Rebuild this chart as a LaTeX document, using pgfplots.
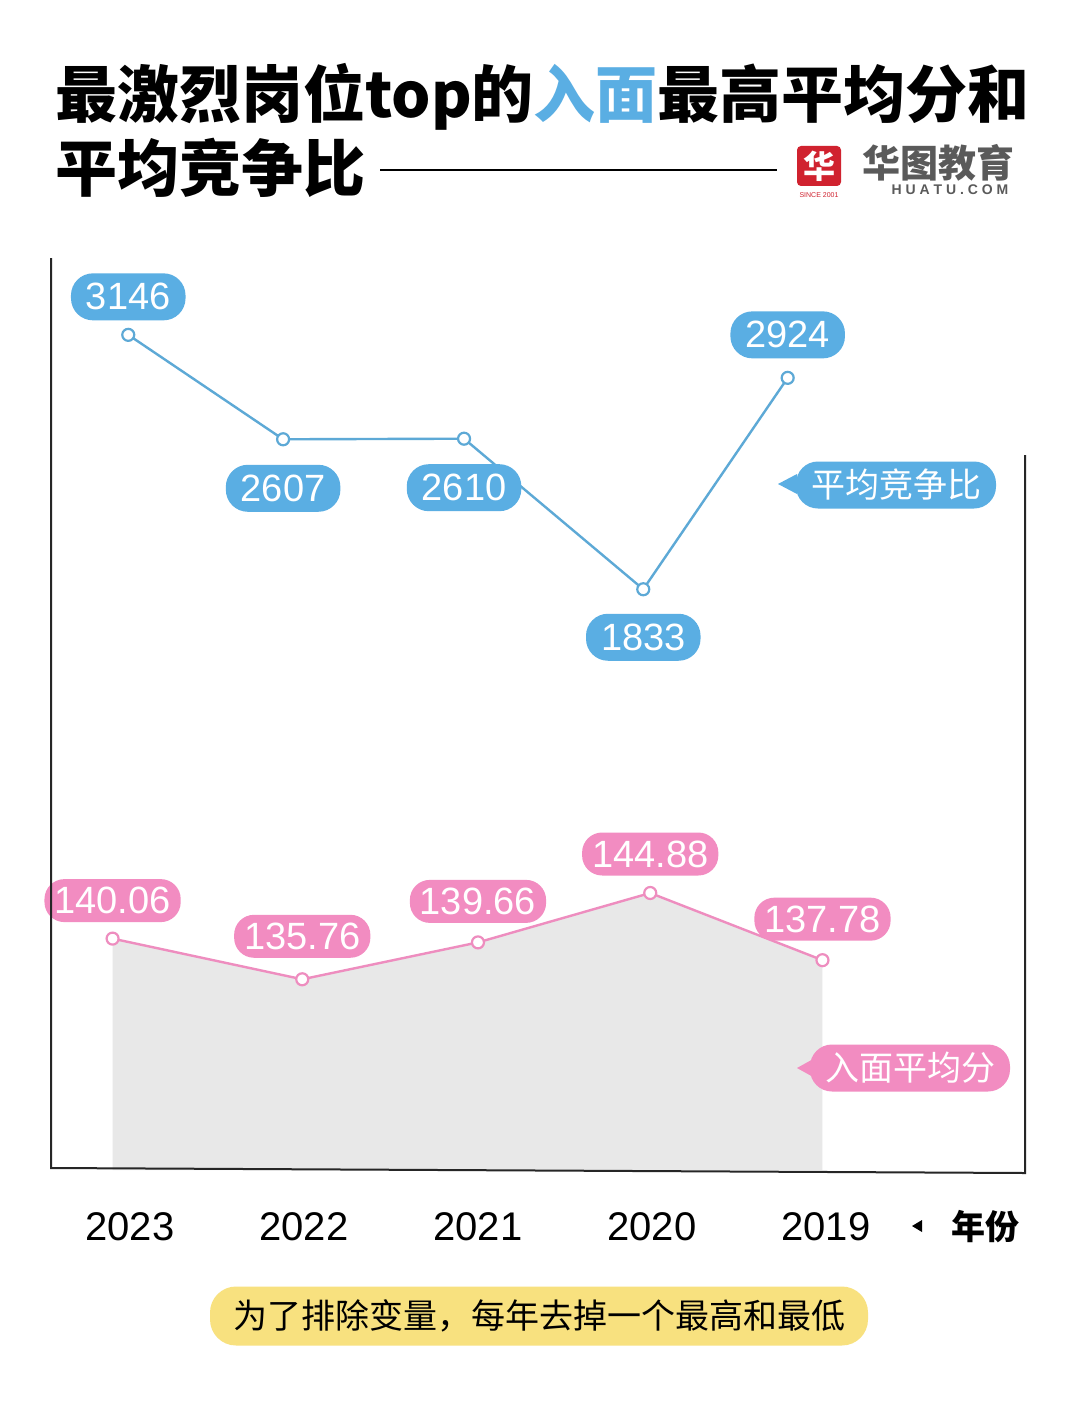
\documentclass[border=0pt]{standalone}
\usepackage{pgfplots}
\pgfplotsset{compat=1.18}
\usepackage{fontspec}
\setmainfont{Liberation Sans}
\newfontfamily\cjk{Noto Sans CJK SC}
\definecolor{bl}{HTML}{5AAEE3}
\definecolor{blline}{HTML}{5DA9D6}
\definecolor{pk}{HTML}{F28CC1}
\definecolor{pkline}{HTML}{EE8DBF}
\definecolor{areagray}{HTML}{E8E8E8}
\definecolor{note}{HTML}{F8E17F}
\definecolor{logored}{HTML}{D0222F}
\definecolor{logogray}{HTML}{5A5A5A}
\tikzset{
  bubble/.style={rounded corners=11pt, text=white, minimum height=23.5pt,
    inner xsep=7.5pt, inner ysep=0pt, font=\fontsize{19pt}{19pt}\selectfont},
  pbubble/.style={bubble, fill=pk, minimum height=21.5pt, inner xsep=5pt, rounded corners=10pt},
}
\begin{document}
\begin{tikzpicture}
\path[use as bounding box, fill=white] (0,0) rectangle (540pt,-706pt);

% pink series: average interview score (with grey area)
\begin{axis}[at={(25.5pt,-585pt)}, anchor=south west,
  width=487pt, height=456pt, scale only axis,
  xmin=-0.454, xmax=5.144, ymin=115.6, ymax=212,
  axis line style={draw=none}, major tick length=0pt,
  xtick={0,1,2,3,4}, xticklabels={2023,2022,2021,2020,2019},
  ytick=\empty,
  xticklabel style={font=\fontsize{20pt}{20pt}\selectfont, anchor=center, yshift=-28.5pt},
  clip=false]
\addplot[fill=areagray, draw=none] coordinates {
  (-0.1,115.6) (-0.1,140.06) (0.99,135.76) (2,139.66) (2.99,144.88) (3.98,137.78) (3.98,115.6)};
\addplot[pkline, line width=1.2pt, mark=*, mark size=3pt,
  mark options={fill=white, draw=pkline, line width=1.1pt}] coordinates {
  (-0.1,140.06) (0.99,135.76) (2,139.66) (2.99,144.88) (3.98,137.78)};
\node[pbubble, yshift=19pt] at (axis cs:-0.1,140.06) {140.06};
\node[pbubble, yshift=21.5pt] at (axis cs:0.99,135.76) {135.76};
\node[pbubble, yshift=20.5pt] at (axis cs:2,139.66) {139.66};
\node[pbubble, yshift=19.5pt] at (axis cs:2.99,144.88) {144.88};
\node[pbubble, yshift=20.5pt] at (axis cs:3.98,137.78) {137.78};
\end{axis}

% blue series: average competition ratio
\begin{axis}[at={(25.5pt,-585pt)}, anchor=south west,
  width=487pt, height=456pt, scale only axis,
  xmin=-0.454, xmax=5.144, ymin=-1164, ymax=3542.6,
  hide axis, clip=false]
\addplot[blline, line width=1.2pt, mark=*, mark size=3pt,
  mark options={fill=white, draw=blline, line width=1.1pt}] coordinates {
  (-0.01,3146) (0.88,2607) (1.92,2610) (2.95,1833) (3.78,2924)};
\node[bubble, fill=bl, yshift=19pt] at (axis cs:-0.01,3146) {3146};
\node[bubble, fill=bl, yshift=-24.5pt] at (axis cs:0.88,2607) {2607};
\node[bubble, fill=bl, yshift=-24.5pt] at (axis cs:1.92,2610) {2610};
\node[bubble, fill=bl, yshift=-24pt] at (axis cs:2.95,1833) {1833};
\node[bubble, fill=bl, yshift=21.5pt] at (axis cs:3.78,2924) {2924};
\end{axis}

\begin{scope}[x=0.5pt, y=-0.5pt]
% title
\node[anchor=west, inner sep=0] at (55,97)
  {\cjk\bfseries\fontsize{31pt}{31pt}\selectfont 最激烈岗位top的\textcolor{bl}{入面}最高平均分和};
\node[anchor=west, inner sep=0] at (55,168)
  {\cjk\bfseries\fontsize{31pt}{31pt}\selectfont 平均竞争比};
\draw[line width=0.8pt] (380,170) -- (777,170);
% logo
\fill[logored, rounded corners=2pt] (797,146) rectangle (841,186);
\node[text=white, inner sep=0] at (819,166) {\cjk\bfseries\fontsize{16pt}{16pt}\selectfont 华};
\node[text=logored, inner sep=0] at (819,195) {\fontsize{3.5pt}{4pt}\selectfont SINCE 2001};
\node[text=logogray, inner sep=0] at (938,163) {\cjk\bfseries\fontsize{19pt}{19pt}\selectfont 华图教育};
\node[text=logogray, inner sep=0] at (950,190) {\bfseries\fontsize{7pt}{7pt}\selectfont H U A T U . C O M};

% axis frame
\draw[line width=1pt, black!85] (51,258) -- (51,1168) -- (1025,1173) -- (1025,455);

% series labels
\fill[bl] (778,484) -- (797,474) -- (797,494) -- cycle;
\node[bubble, fill=bl, minimum width=94pt, font={\cjk\fontsize{17pt}{17pt}\selectfont}] at (896,485) {平均竞争比};
\fill[pk] (797,1068) -- (815,1058) -- (815,1078) -- cycle;
\node[bubble, fill=pk, minimum width=92pt, font={\cjk\fontsize{17pt}{17pt}\selectfont}] at (910,1068) {入面平均分};

% x axis name
\fill[black] (912,1226) -- (922,1220) -- (922,1232) -- cycle;
\node[inner sep=0] at (985,1227) {\cjk\bfseries\fontsize{17pt}{17pt}\selectfont 年份};

% note
\node[fill=note, rounded corners=13pt, minimum width=329pt, minimum height=29.5pt, inner sep=0]
  at (539,1316) {\cjk\fontsize{17pt}{17pt}\selectfont 为了排除变量，每年去掉一个最高和最低};
\end{scope}
\end{tikzpicture}
\end{document}
